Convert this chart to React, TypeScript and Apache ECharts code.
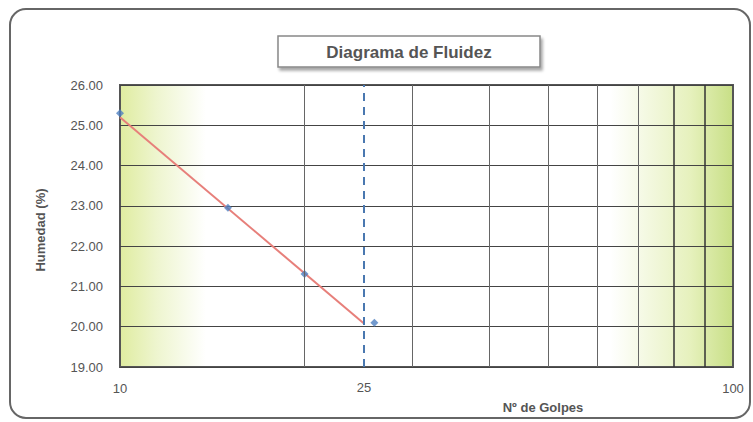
import React, { useEffect, useRef } from "react";
import * as echarts from "echarts";

const golpes = [10, 15, 20, 26];
const humedad = [25.3, 22.95, 21.31, 20.1];
const trendGolpes = [10, 25];
const trendHumedad = [25.2, 20.08];
const verticalGrid = [20, 30, 40, 50, 60, 70, 80, 90];
const refGolpes = 25;
const yMin = 19;
const yMax = 26;

export default function App() {
  const ref = useRef<HTMLDivElement>(null);
  useEffect(() => {
    document.body.style.margin = "0";
    const chart = echarts.init(ref.current!, null, { renderer: "svg" });
    const font = "Liberation Sans, Arial, sans-serif";
    const option: any = {
      animation: false,
      backgroundColor: "#ffffff",
      textStyle: { fontFamily: font },
      grid: {
        left: 120,
        right: 20,
        top: 85,
        bottom: 55,
        show: true,
        borderColor: "#555",
        borderWidth: 2,
        backgroundColor: new echarts.graphic.LinearGradient(0, 0, 1, 0, [
          { offset: 0, color: "#dfeca0" },
          { offset: 0.06, color: "#eef5cf" },
          { offset: 0.14, color: "#ffffff" },
          { offset: 0.8, color: "#ffffff" },
          { offset: 0.93, color: "#e6f1bd" },
          { offset: 1, color: "#c8df86" },
        ]),
      },
      graphic: [
        {
          type: "rect",
          shape: { x: 10, y: 9, width: 740, height: 409, r: 16 },
          style: { fill: "none", stroke: "#666", lineWidth: 2 },
          z: -1,
        },
        {
          type: "rect",
          shape: { x: 278, y: 36, width: 262, height: 31 },
          style: {
            fill: "#fff",
            stroke: "#888",
            lineWidth: 1.5,
            shadowBlur: 3,
            shadowOffsetX: 2,
            shadowOffsetY: 3,
            shadowColor: "rgba(0,0,0,0.35)",
          },
        },
        {
          type: "text",
          x: 409,
          y: 52,
          style: {
            text: "Diagrama de Fluidez",
            font: "bold 17px " + font,
            fill: "#555",
            align: "center",
            verticalAlign: "middle",
          },
        },
        {
          type: "text",
          x: 40,
          y: 230,
          rotation: Math.PI / 2,
          style: {
            text: "Humedad (%)",
            font: "bold 13px " + font,
            fill: "#555",
            align: "center",
            verticalAlign: "middle",
          },
        },
        {
          type: "text",
          x: 543,
          y: 407,
          style: {
            text: "Nº de Golpes",
            font: "bold 13px " + font,
            fill: "#555",
            align: "center",
            verticalAlign: "middle",
          },
        },
      ],
      xAxis: {
        type: "log",
        logBase: 10,
        min: 10,
        max: 100,
        axisLine: { show: false },
        axisTick: { show: false },
        splitLine: { show: false },
        axisLabel: { color: "#555", fontSize: 13, margin: 15, fontFamily: font },
      },
      yAxis: {
        type: "value",
        min: yMin,
        max: yMax,
        interval: 1,
        axisLine: { show: false },
        axisTick: { show: false },
        splitLine: { show: true, lineStyle: { color: "#444", width: 1 } },
        axisLabel: {
          color: "#555",
          fontSize: 13,
          margin: 17,
          fontFamily: font,
          formatter: (v: number) => v.toFixed(2),
        },
      },
      series: [
        {
          type: "line",
          data: [],
          silent: true,
          markLine: {
            symbol: "none",
            silent: true,
            label: { show: false },
            lineStyle: { color: "#666", width: 1, type: "solid" },
            data: verticalGrid.map((v) =>
              v >= 80
                ? { xAxis: v, lineStyle: { color: "#333", width: 1.5, type: "solid" } }
                : { xAxis: v }
            ),
          },
        },
        {
          type: "line",
          data: [],
          silent: true,
          markLine: {
            symbol: "none",
            silent: true,
            lineStyle: { color: "#4a78b0", width: 2, type: [8, 6] },
            label: {
              show: true,
              position: "start",
              formatter: String(refGolpes),
              color: "#555",
              fontSize: 13,
              distance: 14,
              fontFamily: font,
            },
            data: [{ xAxis: refGolpes }],
          },
        },
        {
          type: "line",
          data: trendGolpes.map((g, i) => [g, trendHumedad[i]]),
          symbol: "none",
          lineStyle: { color: "#e77f7a", width: 2 },
          z: 3,
        },
        {
          type: "scatter",
          data: golpes.map((g, i) => [g, humedad[i]]),
          symbol: "diamond",
          symbolSize: 8,
          itemStyle: { color: "#4f7fc0" },
          z: 4,
        },
      ],
    };
    chart.setOption(option);
    return () => chart.dispose();
  }, []);
  return <div ref={ref} style={{ width: 753, height: 422, position: "fixed", left: 0, top: 0 }} />;
}
